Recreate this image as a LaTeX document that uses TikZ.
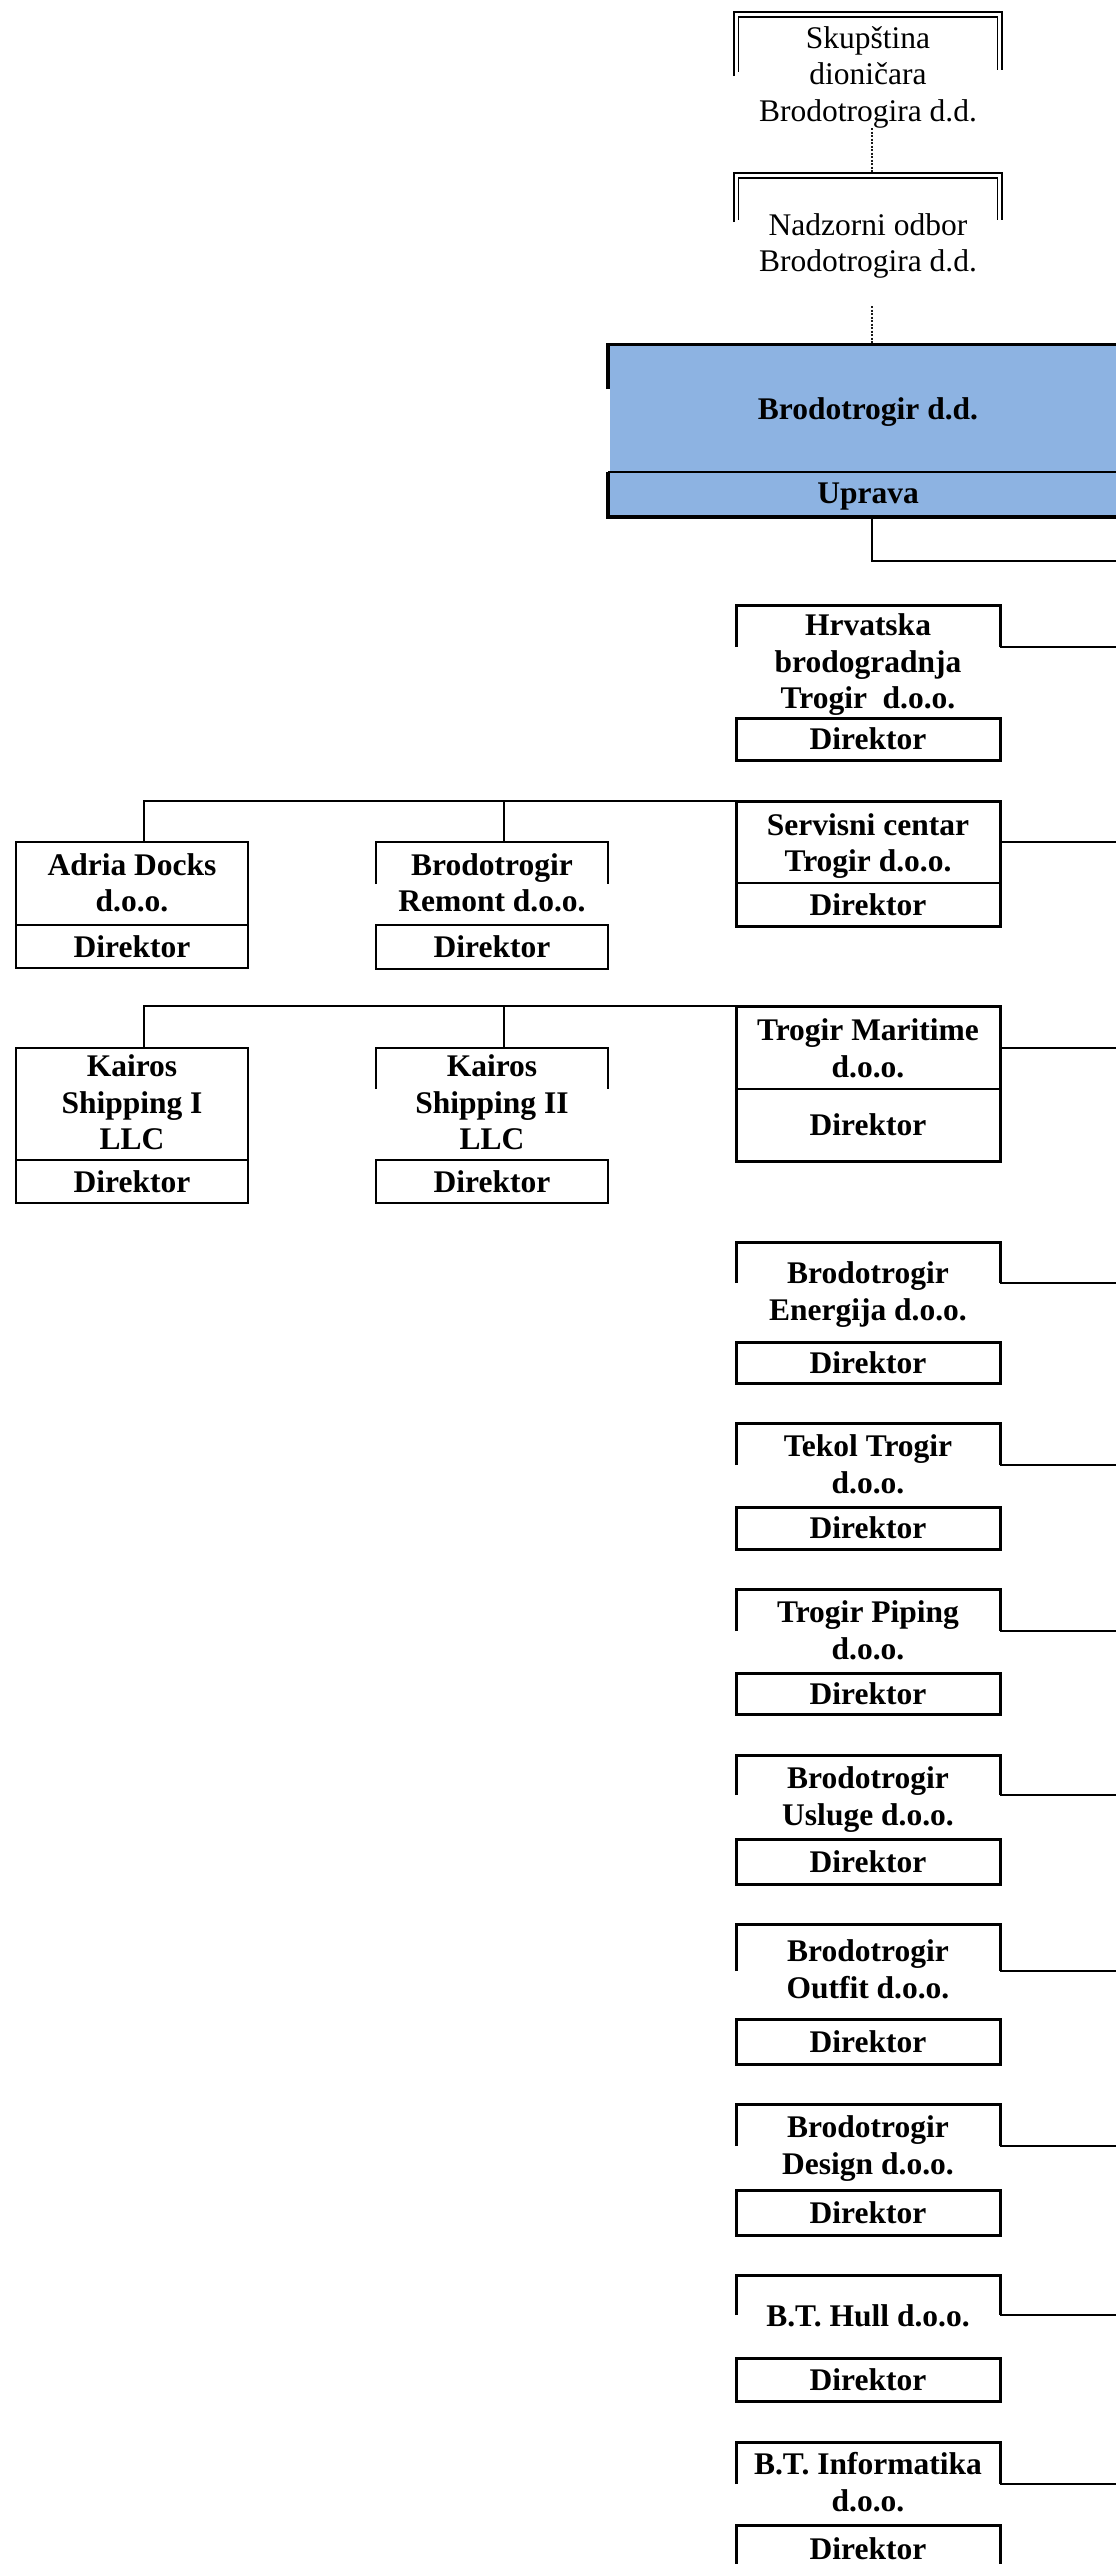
\documentclass[tikz,border=0pt]{standalone}
\usepackage{fontspec}
\setmainfont{Liberation Serif}
\definecolor{bdblue}{RGB}{141,179,226}
\begin{document}
\begin{tikzpicture}[x=1pt,y=-1pt,
  every node/.style={inner sep=0pt,outer sep=0pt},
  ttl/.style={align=center,font=\bfseries\fontsize{31.5}{36.5}\selectfont,
    execute at begin node=\strut,execute at end node=\strut},
  rttl/.style={align=center,font=\fontsize{31.5}{36.5}\selectfont,
    execute at begin node=\strut,execute at end node=\strut},
  lbl/.style={font=\bfseries\fontsize{31.5}{36.5}\selectfont},
  frameR/.style={minimum width=264},
  frameL/.style={minimum width=232},
  heavy/.style={line width=3pt},
  light/.style={line width=2.2pt},
  conn/.style={line width=2pt},
  dotconn/.style={line width=1.3pt,dash pattern=on 2pt off 1.5pt,black!90},
  dblout/.style={line width=2.5pt},
  dblin/.style={line width=1.8pt},
  bigline/.style={line width=3.8pt}
]
\useasboundingbox (0,0) rectangle (1116,2564);
\clip (0,0) rectangle (1116,2564);
\fill[white] (0,0) rectangle (1116,2564);

% ---------- top: Skupstina ----------
\node[minimum width=268,minimum height=116] (sk) at (868,70) {};
\draw[dblout] (734,76) -- (734,12) -- (1002,12) -- (1002,70);
\draw[dblin] (738.5,72) -- (738.5,17) -- (997.5,17) -- (997.5,70);
\node[rttl] (skT) at (868,79.5) {Skupština\\dioničara\\Brodotrogira d.d.};

% ---------- Nadzorni odbor ----------
\node[minimum width=268,minimum height=133] (nad) at (868,239.5) {};
\draw[dblout] (734,222) -- (734,173) -- (1002,173) -- (1002,220);
\draw[dblin] (738.5,220) -- (738.5,178) -- (997.5,178) -- (997.5,220);
\node[rttl] (nadT) at (868,248) {Nadzorni odbor\\Brodotrogira d.d.};

% ---------- Brodotrogir d.d. ----------
\node[minimum width=519,minimum height=174,fill=bdblue] (bd) at (869,430) {};
\draw[bigline] (608,389) -- (608,344.5) -- (1130,344.5);
\node[minimum width=520,minimum height=45] (up) at (868,494.5) {};
\draw[line width=2.3pt] (up.north west) -- (up.north east);
\draw[bigline] (up.north west) -- (up.south west) -- (up.south east);
\node[lbl] (bdT) at (868,412) {Brodotrogir d.d.};
\node[lbl] (upT) at (868,497) {Uprava};

% dotted connectors
\draw[dotconn] ([xshift=4pt]sk.south) -- ([xshift=4pt]nad.north);
\draw[dotconn] ([xshift=4pt]nad.south) -- ([xshift=4pt]nad.south |- bd.north);
% Uprava to the right
\coordinate (e0) at (1120,561);
\draw[conn] ([xshift=4pt]up.south) |- (e0);

% ---------- right column, open-top boxes ----------
\foreach \nm/\ya/\yb/\yc/\yd/\ye/\txt in {
  hr/605/647/718/760/667/{Hrvatska\\brodogradnja\\Trogir\ \ d.o.o.},
  en/1242/1283/1342/1383/1296.5/{Brodotrogir\\Energija d.o.o.},
  tk/1423/1465/1507/1549/1469.5/{Tekol Trogir\\d.o.o.},
  tp/1589/1631/1673/1714/1635.5/{Trogir Piping\\d.o.o.},
  us/1755/1795/1839/1884/1801.5/{Brodotrogir\\Usluge d.o.o.},
  of/1924/1971/2019/2064/1974.5/{Brodotrogir\\Outfit d.o.o.},
  ds/2104/2146/2190/2235/2150.5/{Brodotrogir\\Design d.o.o.},
  hl/2275/2315/2358/2401/2319/{B.T. Hull d.o.o.},
  bi/2442/2484/2525/2572/2487.5/{B.T. Informatika\\d.o.o.}}{
  \node[frameR,minimum height={\yb-\ya}] (f\nm) at (868,{(\ya+\yb)/2}) {};
  \draw[heavy] (f\nm.south west) -- (f\nm.north west) -- (f\nm.north east) -- (f\nm.south east);
  \coordinate (x\nm) at (1120,\yb);
  \draw[conn] (f\nm.south east) -- (x\nm);
  \node[ttl] (t\nm) at (868,\ye) {\txt};
  \node[lbl,draw,heavy,frameR,minimum height={\yd-\yc}] (d\nm) at (868,{(\yc+\yd)/2}) {Direktor};
}

% ---------- Servisni centar ----------
\node[frameR,draw,heavy,minimum height=125] (sv) at (868,863.5) {};
\node[frameR,lbl,minimum height=43] (svD) at (868,904.5) {Direktor};
\draw[conn] (svD.north west) -- (svD.north east);
\node[ttl] (svT) at (868,848) {Servisni centar\\Trogir d.o.o.};
\coordinate (xsv) at (1120,842);
\draw[conn] (sv.east |- xsv) -- (xsv);

% ---------- Trogir Maritime ----------
\node[frameR,draw,heavy,minimum height=155] (tm) at (868,1083.5) {};
\node[frameR,lbl,minimum height=72] (tmD) at (868,1125) {Direktor};
\draw[conn] (tmD.north west) -- (tmD.north east);
\node[ttl] (tmT) at (868,1053.5) {Trogir Maritime\\d.o.o.};
\coordinate (xtm) at (1120,1048);
\draw[conn] (tm.east |- xtm) -- (xtm);

% ---------- left: Adria Docks ----------
\node[frameL,draw,light,minimum height=126] (ad) at (132,905) {};
\node[frameL,lbl,minimum height=43] (adD) at (132,946.5) {Direktor};
\draw[light] (adD.north west) -- (adD.north east);
\node[ttl] (adT) at (132,888) {Adria Docks\\d.o.o.};

% ---------- Brodotrogir Remont ----------
\node[frameL,minimum height=42] (rm) at (492,863) {};
\draw[light] (rm.south west) -- (rm.north west) -- (rm.north east) -- (rm.south east);
\node[frameL,lbl,draw,light,minimum height=44] (rmD) at (492,947) {Direktor};
\node[ttl] (rmT) at (492,888) {Brodotrogir\\Remont d.o.o.};

% ---------- Kairos Shipping I ----------
\node[frameL,draw,light,minimum height=155] (k1) at (132,1125.5) {};
\node[frameL,lbl,minimum height=43] (k1D) at (132,1181.5) {Direktor};
\draw[light] (k1D.north west) -- (k1D.north east);
\node[ttl] (k1T) at (132,1108) {Kairos\\Shipping I\\LLC};

% ---------- Kairos Shipping II ----------
\node[frameL,minimum height=41] (k2) at (492,1068.5) {};
\draw[light] (k2.south west) -- (k2.north west) -- (k2.north east) -- (k2.south east);
\node[frameL,lbl,draw,light,minimum height=43] (k2D) at (492,1181.5) {Direktor};
\node[ttl] (k2T) at (492,1108) {Kairos\\Shipping II\\LLC};

% ---------- left connectors ----------
\draw[conn] (sv.north west) -| ([xshift=12pt]ad.north);
\draw[conn] ([xshift=12pt]rm.north) -- ([xshift=12pt]rm.north |- sv.north);
\draw[conn] (tm.north west) -| ([xshift=12pt]k1.north);
\draw[conn] ([xshift=12pt]k2.north) -- ([xshift=12pt]k2.north |- tm.north);
\end{tikzpicture}
\end{document}
